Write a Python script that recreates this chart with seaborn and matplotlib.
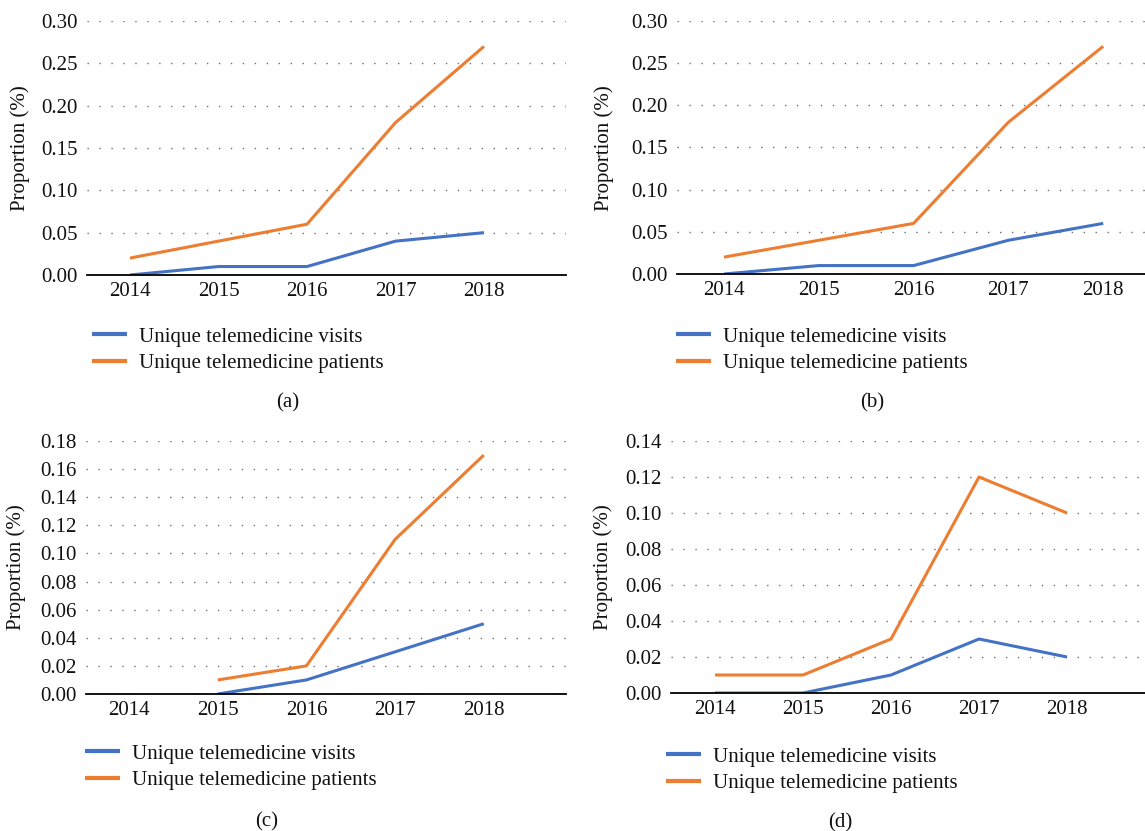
import matplotlib
matplotlib.use("Agg")
import matplotlib.pyplot as plt
from matplotlib.ticker import FormatStrFormatter, MultipleLocator
import numpy as np
import pandas as pd
import seaborn as sns

# ---- data -------------------------------------------------------------
years = [2014, 2015, 2016, 2017, 2018]
series_names = ["Unique telemedicine visits", "Unique telemedicine patients"]

visits_a = [0.00, 0.01, 0.01, 0.04, 0.05]
patients_a = [0.02, 0.04, 0.06, 0.18, 0.27]

visits_b = [0.00, 0.01, 0.01, 0.04, 0.06]
patients_b = [0.02, 0.04, 0.06, 0.18, 0.27]

visits_c = [np.nan, 0.00, 0.01, 0.03, 0.05]
patients_c = [np.nan, 0.01, 0.02, 0.11, 0.17]

visits_d = [0.00, 0.00, 0.01, 0.03, 0.02]
patients_d = [0.01, 0.01, 0.03, 0.12, 0.10]

panel_labels = ["(a)", "(b)", "(c)", "(d)"]
y_maxes = [0.30, 0.30, 0.18, 0.14]
y_steps = [0.05, 0.05, 0.02, 0.02]

# ---- style ------------------------------------------------------------
sns.set_theme(style="white")
plt.rcParams["font.family"] = ["Liberation Serif", "DejaVu Serif"]
FS = 15
TXT = "#111111"
palette = {series_names[0]: "#4472C4", series_names[1]: "#ED7D31"}

W, H = 1145, 831
fig = plt.figure(figsize=(W / 100, H / 100), dpi=100)


def fx(px):
    return px / W


def fy(py):
    return 1 - py / H


# panel geometry in pixels: left, right, top (y of max), bottom (y of 0),
# pixel x of first year, pixel spacing between years
geom = [
    dict(l=87, r=566, t=21, b=275, x0=130, dx=88.5, ylab=(30, 148),
         leg=(92, 327), cap=(288, 403)),
    dict(l=677, r=1145, t=21, b=274, x0=724, dx=94.8, ylab=(614, 148),
         leg=(676, 327), cap=(872, 403)),
    dict(l=86, r=566, t=441, b=694, x0=129, dx=88.7, ylab=(26, 567),
         leg=(85, 744), cap=(267, 822)),
    dict(l=671, r=1145, t=441, b=693, x0=715, dx=88.0, ylab=(613, 567),
         leg=(666, 747), cap=(840, 823)),
]

data = [(visits_a, patients_a), (visits_b, patients_b),
        (visits_c, patients_c), (visits_d, patients_d)]

for g, (vis, pat), ymax, ystep, cap in zip(geom, data, y_maxes, y_steps, panel_labels):
    ax = fig.add_axes([fx(g["l"]), fy(g["b"]), fx(g["r"] - g["l"]), (g["b"] - g["t"]) / H])
    df = pd.DataFrame({
        "Year": years * 2,
        "Proportion": list(vis) + list(pat),
        "Series": [series_names[0]] * len(years) + [series_names[1]] * len(years),
    })
    sns.lineplot(data=df, x="Year", y="Proportion", hue="Series",
                 hue_order=series_names, palette=palette, linewidth=2.2,
                 ax=ax, legend=True, zorder=3)
    for ln in ax.get_lines():
        ln.set_solid_joinstyle("round")
        ln.set_solid_capstyle("butt")

    xl = years[0] - (g["x0"] - g["l"]) / g["dx"]
    xr = years[0] + (g["r"] - g["x0"]) / g["dx"]
    ax.set_xlim(xl, xr)
    ax.set_ylim(0, ymax)
    ax.set_xticks(years)
    ax.set_xticklabels([str(y) for y in years])
    ax.yaxis.set_major_locator(MultipleLocator(ystep))
    ax.yaxis.set_major_formatter(FormatStrFormatter("%.2f"))

    ax.grid(axis="y", color="#6f6f6f", linewidth=1.0, linestyle=(0, (1.0, 7.6)))
    ax.grid(axis="x", visible=False)
    for s in ["top", "right", "left"]:
        ax.spines[s].set_visible(False)
    ax.spines["bottom"].set_color("black")
    ax.spines["bottom"].set_linewidth(1.3)
    ax.spines["bottom"].set_zorder(4)
    ax.tick_params(axis="both", length=0, labelsize=FS, colors=TXT)
    ax.tick_params(axis="y", pad=7)
    ax.tick_params(axis="x", pad=5)

    ax.set_xlabel("")
    ax.set_ylabel("Proportion (%)", fontsize=FS, color=TXT)
    ax.yaxis.set_label_coords(fx(g["ylab"][0]), fy(g["ylab"][1]), transform=fig.transFigure)

    handles, labels = ax.get_legend_handles_labels()
    ax.legend(handles, labels, loc="upper left",
              bbox_to_anchor=(fx(g["leg"][0]), fy(g["leg"][1])),
              bbox_transform=fig.transFigure, frameon=False, fontsize=FS,
              handlelength=1.7, handletextpad=0.55, labelspacing=0.32,
              borderpad=0, borderaxespad=0, labelcolor=TXT)
    for lh in ax.get_legend().get_lines():
        lh.set_linewidth(3)

    fig.text(fx(g["cap"][0]), fy(g["cap"][1]), cap, ha="center", va="center",
             fontsize=FS, color=TXT)

fig.savefig("out.png", dpi=100)
